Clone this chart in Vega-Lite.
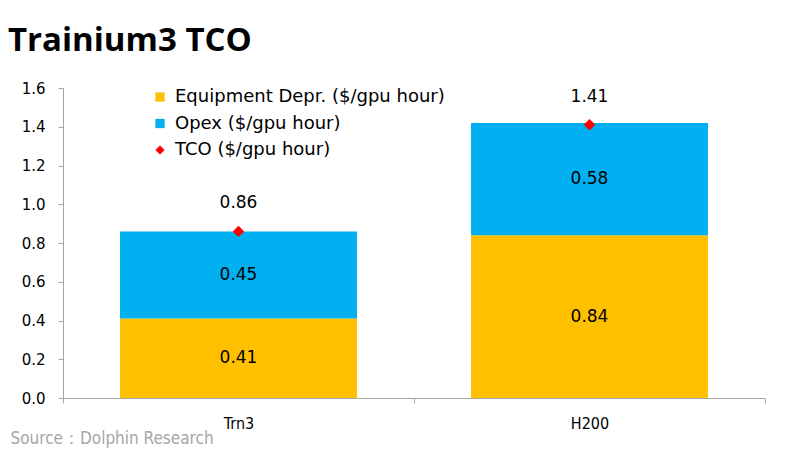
{
  "$schema": "https://vega.github.io/schema/vega-lite/v6.json",
  "description": "Trainium3 TCO, stacked bars with TCO markers",
  "width": 702,
  "height": 310,
  "autosize": "none",
  "padding": {"left": 63, "top": 88, "right": 28, "bottom": 54},
  "background": "white",
  "title": {
    "text": "Trainium3 TCO",
    "anchor": "start",
    "frame": "group",
    "dx": -55,
    "offset": 23,
    "font": "Open Sans",
    "fontSize": 33,
    "fontWeight": "bold",
    "color": "#000000"
  },
  "data": {
    "values": [
      {"chip": "Trn3", "series": "Equipment Depr. ($/gpu hour)", "k": 1, "value": 0.41},
      {"chip": "Trn3", "series": "Opex ($/gpu hour)", "k": 2, "value": 0.45},
      {"chip": "H200", "series": "Equipment Depr. ($/gpu hour)", "k": 1, "value": 0.84},
      {"chip": "H200", "series": "Opex ($/gpu hour)", "k": 2, "value": 0.58},
      {"chip": "Trn3", "series": "TCO ($/gpu hour)", "k": 3, "value": 0.86},
      {"chip": "H200", "series": "TCO ($/gpu hour)", "k": 3, "value": 1.41}
    ]
  },
  "encoding": {
    "x": {
      "field": "chip",
      "type": "nominal",
      "sort": ["Trn3", "H200"],
      "scale": {"paddingInner": 0, "paddingOuter": 0},
      "axis": {
        "title": "Source：Dolphin Research",
        "titleX": -53,
        "titleY": 45,
        "titleAlign": "left",
        "titleAnchor": "start",
        "titleBaseline": "alphabetic",
        "titleFont": "'DejaVu Sans Condensed', Lato, sans-serif",
        "titleFontSize": 17,
        "titleFontWeight": "normal",
        "titleColor": "#a6a6a6",
        "labelAngle": 0,
        "labelFont": "'DejaVu Sans Condensed', Lato, sans-serif",
        "labelFontSize": 16,
        "labelColor": "#000000",
        "labelPadding": 12,
        "tickBand": "extent",
        "tickSize": 5,
        "tickColor": "#a6a6a6",
        "domainColor": "#a6a6a6"
      }
    },
    "y": {
      "field": "value",
      "type": "quantitative",
      "stack": "zero",
      "scale": {"domain": [0, 1.6], "nice": false},
      "axis": {
        "title": null,
        "values": [0, 0.2, 0.4, 0.6, 0.8, 1.0, 1.2, 1.4, 1.6],
        "format": ".1f",
        "grid": false,
        "labelOverlap": false,
        "labelFont": "DejaVu Sans",
        "labelFontSize": 15,
        "labelColor": "#000000",
        "labelPadding": 13,
        "tickSize": 5,
        "tickColor": "#a6a6a6",
        "domainColor": "#a6a6a6"
      }
    }
  },
  "layer": [
    {
      "transform": [{"filter": "datum.k < 3"}],
      "mark": {"type": "bar", "width": {"band": 0.675}},
      "encoding": {
        "order": {"field": "k"},
        "color": {
          "field": "series",
          "type": "nominal",
          "scale": {
            "domain": ["Equipment Depr. ($/gpu hour)", "Opex ($/gpu hour)", "TCO ($/gpu hour)"],
            "range": ["#FFC000", "#00B0F0", "#FF0000"]
          },
          "legend": {"title": null}
        }
      }
    },
    {
      "transform": [{"filter": "datum.k < 3"}],
      "mark": {"type": "text", "font": "DejaVu Sans", "fontSize": 17, "color": "#000000"},
      "encoding": {
        "y": {"field": "value", "type": "quantitative", "stack": "zero", "bandPosition": 0.5},
        "order": {"field": "k"},
        "text": {"field": "value", "type": "quantitative", "format": ".2f"}
      }
    },
    {
      "transform": [{"filter": "datum.k == 3"}],
      "mark": {"type": "point", "filled": true, "size": 130, "opacity": 1},
      "encoding": {
        "color": {"field": "series", "type": "nominal", "legend": {"title": null}},
        "shape": {
          "field": "series",
          "type": "nominal",
          "scale": {
            "domain": ["Equipment Depr. ($/gpu hour)", "Opex ($/gpu hour)", "TCO ($/gpu hour)"],
            "range": ["square", "square", "diamond"]
          },
          "legend": {"title": null}
        }
      }
    },
    {
      "transform": [{"filter": "datum.k == 3"}],
      "mark": {"type": "text", "font": "DejaVu Sans", "fontSize": 17, "color": "#000000", "dy": -28},
      "encoding": {
        "text": {"field": "value", "type": "quantitative", "format": ".2f"}
      }
    }
  ],
  "config": {
    "view": {"stroke": null},
    "legend": {
      "orient": "none",
      "legendX": 88,
      "legendY": 0,
      "labelFont": "DejaVu Sans",
      "labelFontSize": 18,
      "labelColor": "#000000",
      "labelLimit": 400,
      "symbolSize": 85,
      "symbolStrokeWidth": 0,
      "rowPadding": 8.5,
      "labelOffset": 6
    }
  }
}
